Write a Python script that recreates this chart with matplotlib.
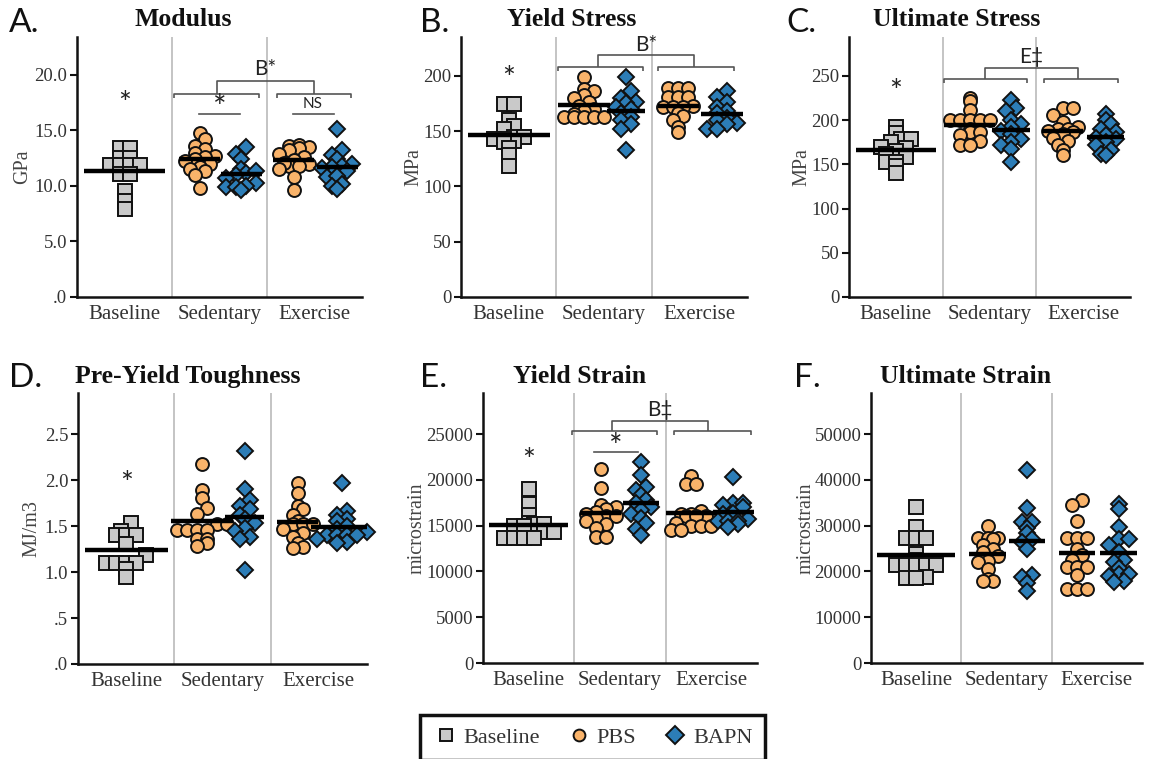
import numpy as np
import matplotlib
matplotlib.use("Agg")
import matplotlib.pyplot as plt
from matplotlib.lines import Line2D

# ---------------- data ----------------
groups = ["Baseline", "Sedentary", "Exercise"]
legend_labels = ["Baseline", "PBS", "BAPN"]

# A. Modulus (GPa)
mod_base = [13.4, 13.4, 12.5, 12.5, 11.9, 11.9, 11.9, 11.9, 11.1, 11.1, 9.5, 8.6, 7.9]
mod_sed_pbs = [14.8, 14.2, 13.6, 13.3, 13.0, 12.7, 12.6, 12.4, 12.2, 12.0, 11.7, 11.3, 11.5, 11.0, 9.8]
mod_sed_bapn = [13.5, 12.9, 12.4, 11.5, 11.2, 11.3, 11.0, 10.7, 10.3, 10.0, 9.9, 9.9, 9.6]
mod_ex_pbs = [13.6, 13.7, 13.5, 13.4, 13.2, 12.9, 12.6, 12.3, 12.0, 11.8, 12.1, 11.8, 11.5, 10.8, 9.6]
mod_ex_bapn = [15.1, 13.2, 12.8, 12.4, 12.0, 11.8, 11.7, 11.6, 11.3, 10.8, 10.9, 10.2, 10.0, 9.7]

# B. Yield stress (MPa)
ys_base = [174, 174, 160, 155, 152, 145, 143, 145, 143, 141, 140, 135, 128, 118]
ys_sed_pbs = [199, 188, 186, 183, 180, 176, 173, 170, 168, 165, 163, 163, 163, 163, 163]
ys_sed_bapn = [199, 186, 180, 176, 175, 172, 170, 166, 163, 160, 156, 152, 133]
ys_ex_pbs = [189, 189, 189, 181, 181, 181, 173, 172, 172, 172, 166, 164, 160, 154, 149]
ys_ex_bapn = [186, 181, 176, 172, 168, 166, 162, 160, 157, 156, 152, 152]

# C. Ultimate stress (MPa)
us_base = [192, 185, 178, 178, 175, 170, 168, 165, 162, 158, 152, 152, 148, 140]
us_sed_pbs = [225, 221, 211, 200, 200, 200, 200, 200, 190, 186, 183, 186, 176, 172, 172]
us_sed_bapn = [223, 214, 210, 200, 196, 192, 188, 184, 178, 175, 172, 167, 153]
us_ex_pbs = [214, 214, 206, 198, 192, 190, 190, 188, 186, 184, 180, 176, 172, 166, 160]
us_ex_bapn = [207, 200, 195, 190, 186, 183, 180, 178, 175, 172, 166, 162, 160]

# D. Pre-yield toughness (MJ/m3)
tough_base = [1.53, 1.45, 1.40, 1.40, 1.40, 1.30, 1.18, 1.10, 1.10, 1.10, 1.10, 1.03, 0.95]
tough_sed_pbs = [2.17, 1.89, 1.80, 1.70, 1.63, 1.52, 1.52, 1.46, 1.46, 1.46, 1.46, 1.36, 1.36, 1.32, 1.28]
tough_sed_bapn = [2.32, 1.90, 1.78, 1.72, 1.68, 1.62, 1.58, 1.53, 1.48, 1.45, 1.38, 1.36, 1.02]
tough_ex_pbs = [1.97, 1.86, 1.72, 1.68, 1.62, 1.55, 1.52, 1.52, 1.52, 1.47, 1.42, 1.38, 1.32, 1.27, 1.26]
tough_ex_bapn = [1.97, 1.66, 1.62, 1.58, 1.55, 1.50, 1.47, 1.44, 1.40, 1.40, 1.40, 1.40, 1.36, 1.33, 1.32]

# E. Yield strain (microstrain)
ystr_base = [18970, 17400, 16200, 15300, 15200, 15200, 15000, 15000, 14300, 14300, 13700, 13700, 13700, 13700]
ystr_sed_pbs = [21150, 19150, 17200, 17000, 16800, 16500, 16300, 16000, 16000, 15800, 15500, 15200, 14700, 13800, 13800]
ystr_sed_bapn = [21980, 20550, 19200, 18900, 18350, 17800, 17500, 17000, 16700, 16300, 15800, 15260, 14600, 13990]
ystr_ex_pbs = [20400, 19500, 19500, 16600, 16300, 16100, 16300, 16000, 16000, 15300, 15000, 15000, 15000, 14500, 14500]
ystr_ex_bapn = [20350, 17500, 17500, 17200, 17000, 16300, 16400, 15700, 15500, 15500, 15500, 15200, 14800]

# F. Ultimate strain (microstrain)
ustr_base = [34000, 29600, 27200, 27200, 27200, 23800, 22500, 21400, 21400, 21400, 21400, 21400, 18800, 18500, 18500]
ustr_sed_pbs = [29960, 27400, 27400, 27400, 27000, 25800, 25000, 24200, 23400, 22300, 22000, 20500, 18400, 18000, 17800]
ustr_sed_bapn = [42130, 33890, 30800, 30800, 29500, 28300, 27000, 26500, 25000, 19200, 18800, 17400, 15800]
ustr_ex_pbs = [35570, 34480, 31050, 27200, 27200, 27200, 25000, 23500, 22450, 21000, 21000, 21000, 19200, 16250, 16250, 16250]
ustr_ex_bapn = [34620, 33530, 29740, 27000, 27000, 25800, 24300, 22500, 22000, 20800, 19500, 19500, 19000, 18000, 17700]

# y ticks and their labels
mod_ticks = [0, 5, 10, 15, 20]
mod_ticklabels = [".0", "5.0", "10.0", "15.0", "20.0"]
ys_ticks = [0, 50, 100, 150, 200]
ys_ticklabels = ["0", "50", "100", "150", "200"]
us_ticks = [0, 50, 100, 150, 200, 250]
us_ticklabels = ["0", "50", "100", "150", "200", "250"]
tough_ticks = [0, 0.5, 1.0, 1.5, 2.0, 2.5]
tough_ticklabels = [".0", ".5", "1.0", "1.5", "2.0", "2.5"]
ystr_ticks = [0, 5000, 10000, 15000, 20000, 25000]
ystr_ticklabels = ["0", "5000", "10000", "15000", "20000", "25000"]
ustr_ticks = [0, 10000, 20000, 30000, 40000, 50000]
ustr_ticklabels = ["0", "10000", "20000", "30000", "40000", "50000"]

# ---------------- styling ----------------
W, H = 1151, 759
SERIF = "Liberation Serif"
SANS = ["Lato", "DejaVu Sans"]
C_BASE = "#c9c9c9"
C_PBS = "#f9b36a"
C_BAPN = "#2c7db7"
TXT = "#333333"

x_pos = [0.5, 1.29, 1.73, 2.28, 2.74]

plt.rcParams["font.family"] = SERIF

fig = plt.figure(figsize=(W / 100, H / 100), dpi=100)


def px_axes(l, t, r, b):
    return fig.add_axes([l / W, 1 - b / H, (r - l) / W, (b - t) / H])


def swarm_offsets(ax, values, row_px, step_px):
    """Points falling in the same horizontal row are spread side by side."""
    vals = np.asarray(values, float)
    t = ax.transData
    ys = t.transform(np.column_stack([np.zeros(len(vals)), vals]))[:, 1]
    sx = t.transform([[1, 0]])[0, 0] - t.transform([[0, 0]])[0, 0]
    rows = np.round(ys / row_px).astype(int)
    xs = np.zeros(len(vals))
    for r in np.unique(rows):
        idx = np.where(rows == r)[0]
        idx = idx[np.argsort(vals[idx], kind="stable")]
        n = len(idx)
        xs[idx] = (np.arange(n) - (n - 1) / 2) * step_px
    return xs / sx


panels = [
    dict(letter="A.", title="Modulus", ylabel="GPa", box=(77, 37, 362, 297), ymax=23.4,
         ticks=mod_ticks, ticklabels=mod_ticklabels,
         data=[mod_base, mod_sed_pbs, mod_sed_bapn, mod_ex_pbs, mod_ex_bapn],
         ylab_dx=45, letter_xy=(9, 23), title_xy=(183, 20)),
    dict(letter="B.", title="Yield Stress", ylabel="MPa", box=(461, 37, 747, 297), ymax=235,
         ticks=ys_ticks, ticklabels=ys_ticklabels,
         data=[ys_base, ys_sed_pbs, ys_sed_bapn, ys_ex_pbs, ys_ex_bapn],
         ylab_dx=38, letter_xy=(420, 23), title_xy=(572, 20)),
    dict(letter="C.", title="Ultimate Stress", ylabel="MPa", box=(849, 37, 1130, 297), ymax=293.8,
         ticks=us_ticks, ticklabels=us_ticklabels,
         data=[us_base, us_sed_pbs, us_sed_bapn, us_ex_pbs, us_ex_bapn],
         ylab_dx=38, letter_xy=(786, 23), title_xy=(957, 20)),
    dict(letter="D.", title="Pre-Yield Toughness", ylabel="MJ/m3", box=(78, 393, 367, 664), ymax=2.946,
         ticks=tough_ticks, ticklabels=tough_ticklabels,
         data=[tough_base, tough_sed_pbs, tough_sed_bapn, tough_ex_pbs, tough_ex_bapn],
         ylab_dx=37, letter_xy=(9, 378), title_xy=(188, 377)),
    dict(letter="E.", title="Yield Strain", ylabel="microstrain", box=(483, 393, 757, 663), ymax=29476,
         ticks=ystr_ticks, ticklabels=ystr_ticklabels,
         data=[ystr_base, ystr_sed_pbs, ystr_sed_bapn, ystr_ex_pbs, ystr_ex_bapn],
         ylab_dx=56, letter_xy=(420, 378), title_xy=(580, 377)),
    dict(letter="F.", title="Ultimate Strain", ylabel="microstrain", box=(871, 393, 1142, 663), ymax=58963,
         ticks=ustr_ticks, ticklabels=ustr_ticklabels,
         data=[ustr_base, ustr_sed_pbs, ustr_sed_bapn, ustr_ex_pbs, ustr_ex_bapn],
         ylab_dx=55, letter_xy=(794, 378), title_xy=(966, 377)),
]

face = [C_BASE, C_PBS, C_BAPN, C_PBS, C_BAPN]
mk = ["s", "o", "D", "o", "D"]
ms = [10, 9.3, 8.6, 9.3, 8.6]

axes = []
for p in panels:
    l, t, r, b = p["box"]
    ax = px_axes(l, t, r, b)
    axes.append(ax)
    ax.set_xlim(0, 3)
    ax.set_ylim(0, p["ymax"])
    for s in ("top", "right"):
        ax.spines[s].set_visible(False)
    for s in ("left", "bottom"):
        ax.spines[s].set_linewidth(1.8)
        ax.spines[s].set_color("#111111")
    ax.set_yticks(p["ticks"])
    ax.set_yticklabels(p["ticklabels"])
    ax.set_xticks([0.5, 1.5, 2.5])
    ax.set_xticklabels(groups)
    ax.tick_params(axis="y", direction="out", length=5, width=1.5, pad=2,
                   labelsize=13.5, labelcolor=TXT, color="#111111")
    ax.tick_params(axis="x", length=0, pad=6, labelsize=15, labelcolor=TXT)
    for xv in (1, 2):
        ax.axvline(xv, color="#c4c4c4", lw=1.4, zorder=0)
    ax.set_ylabel(p["ylabel"], fontsize=14.5, color="#444444")
    ax.yaxis.set_label_coords(-p["ylab_dx"] / (r - l), 0.5)

    for gi, vals in enumerate(p["data"]):
        offs = swarm_offsets(ax, vals, 8.0, 10.0)
        xs = x_pos[gi] + offs
        ax.plot(xs, vals, ls="none", marker=mk[gi], ms=ms[gi], mfc=face[gi],
                mec="#111111", mew=1.4, zorder=3, clip_on=False)
        mean = float(np.mean(vals))
        half = 0.43 if gi == 0 else max(np.max(np.abs(offs)) + 0.06, 0.2)
        ax.plot([x_pos[gi] - half, x_pos[gi] + half], [mean, mean], color="#000000",
                lw=3.2, solid_capstyle="butt", zorder=4)

    fig.text(p["letter_xy"][0] / W, 1 - p["letter_xy"][1] / H, p["letter"],
             fontsize=24, family=SANS, va="center", ha="left", color="#111111")
    fig.text(p["title_xy"][0] / W, 1 - p["title_xy"][1] / H, p["title"],
             fontsize=18.5, family=SERIF, weight="bold", va="center", ha="center", color="#111111")

BR = "#555555"


def star(ax, x, y, txt="*", size=22):
    ax.text(x, y, txt, ha="center", va="center", fontsize=size, family=SANS,
            color="#222222", clip_on=False)


def group_bracket(ax, y, tick, top, left, right, conn, label, label_y):
    kw = dict(color=BR, lw=1.2, clip_on=False, solid_capstyle="butt")
    for a, c in (left, right):
        ax.plot([a, a, c, c], [y - tick, y, y, y - tick], **kw)
    ax.plot([conn[0], conn[0], conn[1], conn[1]], [y, top, top, y], **kw)
    ax.text((conn[0] + conn[1]) / 2, label_y, label, ha="center", va="center",
            fontsize=15, family=SANS, color="#222222", clip_on=False)


def pair_line(ax, x0, x1, y, label, label_y, size):
    ax.plot([x0, x1], [y, y], color=BR, lw=1.2, clip_on=False)
    ax.text((x0 + x1) / 2, label_y, label, ha="center", va="center",
            fontsize=size, family=SANS, color="#222222", clip_on=False)


axA, axB, axC, axD, axE, axF = axes
# A
star(axA, 0.5, 17.4)
group_bracket(axA, 18.3, 0.4, 19.4, (1.02, 1.92), (2.10, 2.88), (1.47, 2.49), "B*", 20.5)
pair_line(axA, 1.28, 1.72, 16.45, "*", 16.9, 23)
pair_line(axA, 2.27, 2.70, 16.45, "NS", 17.4, 11)
# B
star(axB, 0.5, 197)
group_bracket(axB, 208, 4, 218.6, (1.02, 1.91), (2.07, 2.86), (1.44, 2.44), "B*", 228)
# C
star(axC, 0.5, 232)
group_bracket(axC, 246.6, 4.5, 259, (1.01, 1.90), (2.08, 2.87), (1.45, 2.44), "E\u2021", 271)
# D
star(axD, 0.5, 1.96)
# E
star(axE, 0.5, 22100)
group_bracket(axE, 25330, 450, 26450, (0.97, 1.91), (2.09, 2.93), (1.41, 2.46), "B\u2021", 27600)
pair_line(axE, 1.21, 1.70, 23000, "*", 23500, 23)

# legend
handles = [
    Line2D([], [], ls="none", marker="s", ms=8.5, mfc=C_BASE, mec="#111111", mew=1.4),
    Line2D([], [], ls="none", marker="o", ms=8.5, mfc=C_PBS, mec="#111111", mew=1.4),
    Line2D([], [], ls="none", marker="D", ms=9, mfc=C_BAPN, mec="#111111", mew=1.4),
]
leg = fig.legend(handles, legend_labels, loc="upper center",
                 bbox_to_anchor=(592.5 / W, 1 - 715 / H), ncol=3, frameon=True,
                 fancybox=False, framealpha=1, edgecolor="#111111", borderaxespad=0,
                 prop=dict(family=SERIF, size=16), handletextpad=0.2,
                 columnspacing=1.15, borderpad=0.55, handlelength=1.2)
leg.get_frame().set_linewidth(2.5)
for tx in leg.get_texts():
    tx.set_color(TXT)

fig.savefig("out.png", dpi=100)
